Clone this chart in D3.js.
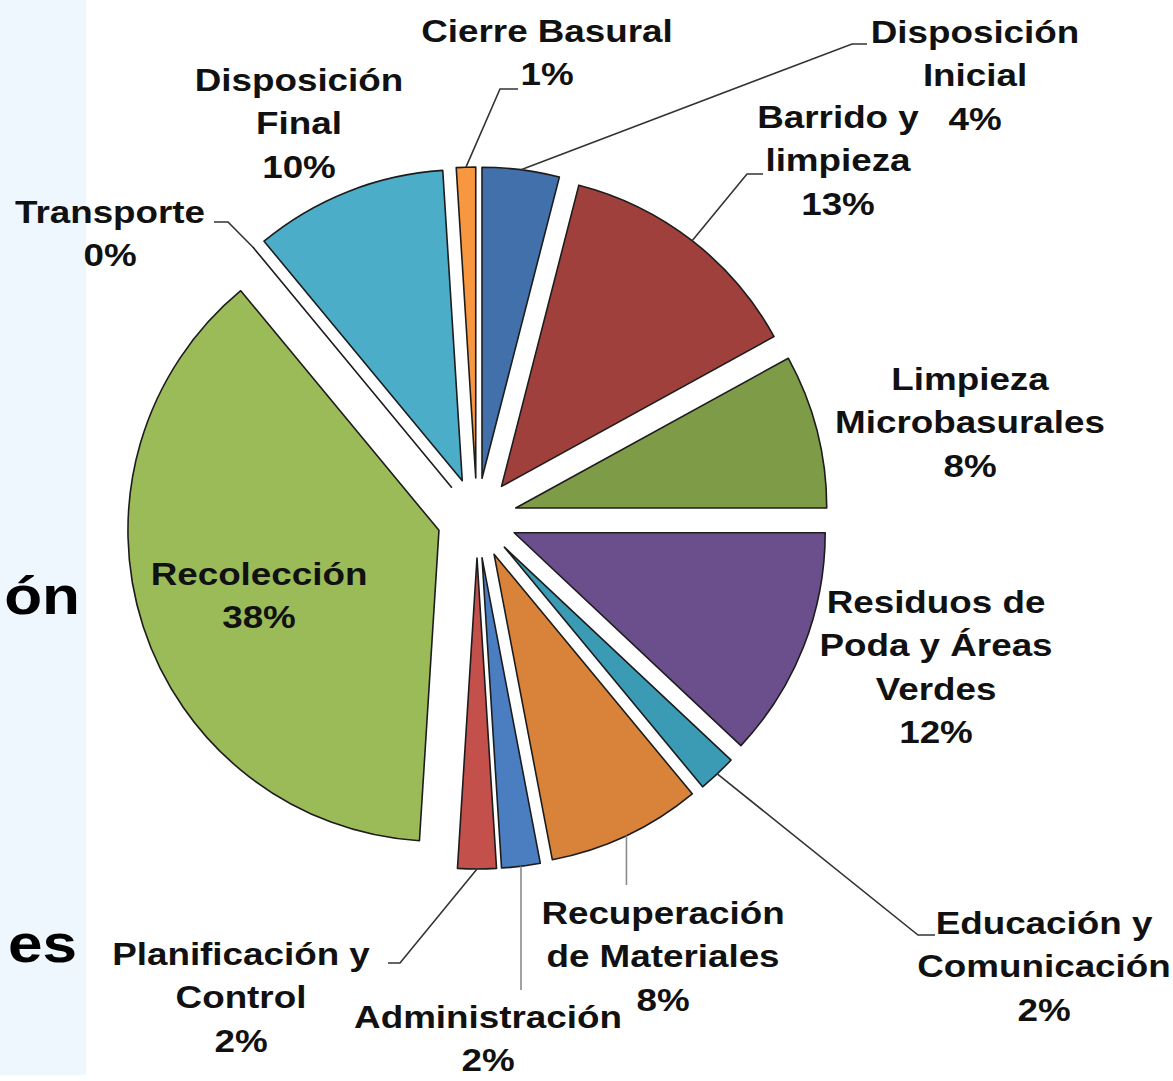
<!DOCTYPE html>
<html>
<head>
<meta charset="utf-8">
<script src="https://cdn.jsdelivr.net/npm/d3@7"></script>
<style>
  body { margin: 0; background: #fff; }
  svg { display: block; }
  text { font-family: "Liberation Sans", Arial, sans-serif; font-weight: bold; fill: #111; }
</style>
</head>
<body>
<script>
(function () {
  'use strict';

  // datos del gráfico (porcentaje del gasto por servicio)
  const categories = [
    "Disposición Inicial", "Barrido y limpieza", "Limpieza Microbasurales",
    "Residuos de Poda y Áreas Verdes", "Educación y Comunicación",
    "Recuperación de Materiales", "Administración", "Planificación y Control",
    "Recolección", "Transporte", "Disposición Final", "Cierre Basural"
  ];
  const values = [4, 13, 8, 12, 2, 8, 2, 2, 38, 0, 10, 1];
  const labelLines = [
    ["Disposición", "Inicial"], ["Barrido y", "limpieza"], ["Limpieza", "Microbasurales"],
    ["Residuos de", "Poda y Áreas", "Verdes"], ["Educación y", "Comunicación"],
    ["Recuperación", "de Materiales"], ["Administración"], ["Planificación y", "Control"],
    ["Recolección"], ["Transporte"], ["Disposición", "Final"], ["Cierre Basural"]
  ];
  const colors = [
    "#4170aa", "#a0403c", "#7e9b48", "#6a4f8c", "#3c9bb4", "#d8823a",
    "#4a7ec0", "#c4504c", "#9bbb59", "#8064a2", "#4badc8", "#f7973f"
  ];

  // posiciones de las etiquetas (centro x, primera línea base)
  const labelPos = [
    [975, 43], [838, 128], [970, 390], [936, 613], [1044, 934], [663, 924],
    [488, 1028], [241, 965], [259, 585], [110, 223], [299, 91], [547, 42]
  ];
  // líneas guía: puntos desde la etiqueta hacia la porción
  const leaders = [
    {i: 0, pts: [[867, 44], [852, 44]], c: "#333"},
    {i: 1, pts: [[763, 174], [747, 174]], c: "#333"},
    {i: 4, pts: [[935, 935], [918, 935]], c: "#333"},
    {i: 5, vy: 885, c: "#8a8a8a"},
    {i: 6, vy: 990, c: "#8a8a8a"},
    {i: 7, pts: [[388, 963], [400, 963]], c: "#333"},
    {i: 9, pts: [[214, 222], [228, 222]], c: "#333"},
    {i: 11, pts: [[518, 89], [500, 89]], c: "#333"}
  ];

  const W = 1173, H = 1081;
  const cx = 477, cy = 518, radius = 311, explode = 40;
  const lineH = 43.5, fontSize = 32, sx = 1.15;

  const svg = d3.select("body").append("svg")
    .attr("width", W).attr("height", H);

  // panel celeste de la diapositiva de fondo
  svg.append("rect").attr("x", 0).attr("y", 0)
    .attr("width", 86).attr("height", 1075).attr("fill", "#eef7fe");
  svg.append("text").attr("transform", "translate(80,614) scale(1.15,1)")
    .attr("text-anchor", "end")
    .style("font-size", "54px").style("fill", "#000").text("ón");
  svg.append("text").attr("transform", "translate(77,962) scale(1.15,1)")
    .attr("text-anchor", "end")
    .style("font-size", "54px").style("fill", "#000").text("es");

  const pie = d3.pie().sort(null).value(function (d) { return d; });
  const arcs = pie(values);
  const arc = d3.arc().innerRadius(0).outerRadius(radius);

  function mid(d) { return (d.startAngle + d.endAngle) / 2; }
  function offset(d) {
    const a = mid(d);
    return [explode * Math.sin(a), -explode * Math.cos(a)];
  }
  function outerPoint(d) {
    const a = mid(d), o = offset(d);
    return [cx + o[0] + radius * Math.sin(a), cy + o[1] - radius * Math.cos(a)];
  }

  const g = svg.append("g").attr("transform", "translate(" + cx + "," + cy + ")");

  g.selectAll("path")
    .data(arcs)
    .enter()
    .append("path")
    .attr("transform", function (d) { return "translate(" + offset(d) + ")"; })
    .attr("d", arc)
    .attr("fill", function (d, i) { return colors[i]; })
    .attr("stroke", "#1c1c1c")
    .attr("stroke-width", 1.6)
    .attr("stroke-linejoin", "round");

  // líneas guía
  const line = d3.line();
  leaders.forEach(function (l) {
    const p = outerPoint(arcs[l.i]);
    let pts;
    if (l.vy) pts = [[p[0], p[1]], [p[0], l.vy]];
    else pts = l.pts.concat([p]);
    svg.append("path")
      .attr("d", line(pts))
      .attr("fill", "none")
      .attr("stroke", l.c)
      .attr("stroke-width", 1.6);
  });

  // etiquetas
  const fmt = d3.format(".0%");
  const labels = svg.append("g").selectAll("text")
    .data(arcs)
    .enter()
    .append("text")
    .attr("transform", function (d, i) {
      return "translate(" + labelPos[i] + ") scale(" + sx + ",1)";
    })
    .attr("text-anchor", "middle")
    .style("font-size", fontSize + "px");

  labels.each(function (d, i) {
    const t = d3.select(this);
    const lines = labelLines[i].concat([fmt(values[i] / 100)]);
    lines.forEach(function (s, k) {
      t.append("tspan").attr("x", 0).attr("y", k * lineH).text(s);
    });
  });
})();
</script>
</body>
</html>
